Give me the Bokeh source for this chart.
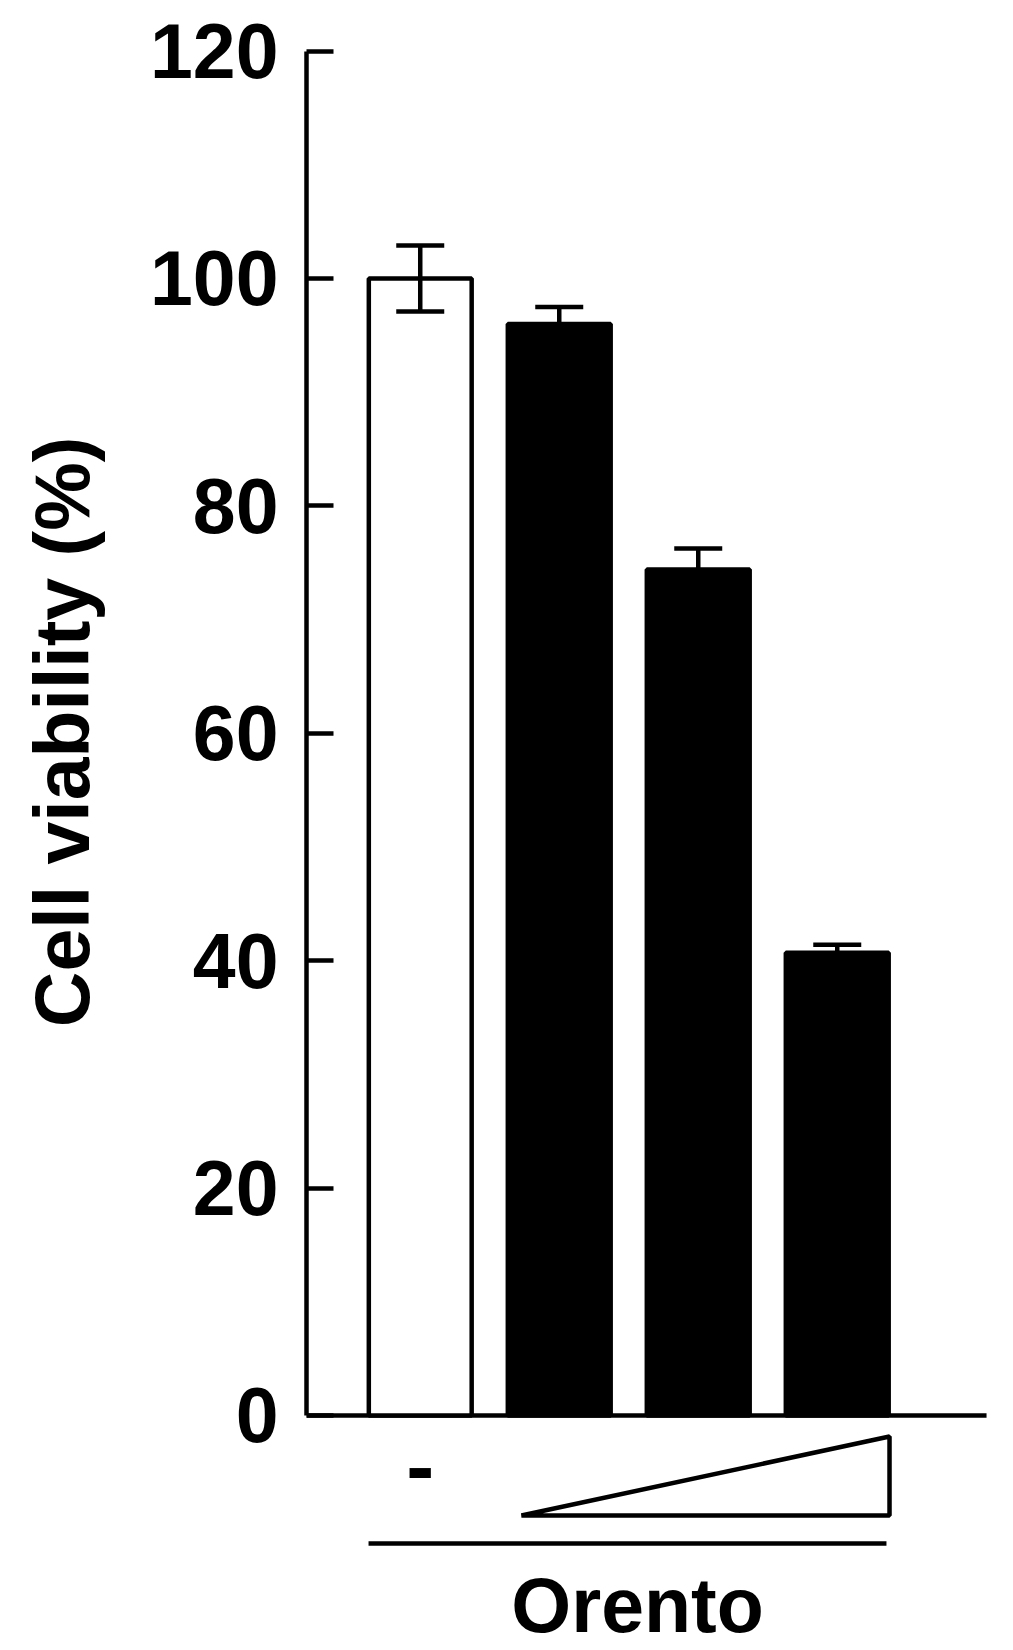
import numpy as np
from math import pi
from bokeh.plotting import figure
from bokeh.layouts import row
from bokeh.models import (ColumnDataSource, FixedTicker, Whisker, TeeHead,
                          Range1d)
from bokeh.core.properties import value
from bokeh.embed import file_html
from bokeh.resources import INLINE

# ---- data ----
conditions = ["Control", "Orento low", "Orento mid", "Orento high"]
viability = [100.0, 96.0, 74.4, 40.7]
sem = [2.9, 1.5, 1.85, 0.7]
y_ticks = [0, 20, 40, 60, 80, 100, 120]
y_title = "Cell viability (%)"
x_title = "Orento"
control_mark = "-"

FONT = "Liberation Sans"
LW = 4.5
H = 1650
TITLE_W = 130

x = np.arange(1, len(viability) + 1, dtype=float)
fills = ["white"] + ["black"] * (len(viability) - 1)
upper = [v + e for v, e in zip(viability, sem)]
lower = [v - e for v, e in zip(viability, sem)]
src = ColumnDataSource(dict(x=x, top=viability, fill=fills, upper=upper, lower=lower))

# ---------- y-axis title strip ----------
t = figure(width=TITLE_W, height=H, output_backend="svg", toolbar_location=None,
           x_range=Range1d(0, TITLE_W), y_range=Range1d(H, 0),
           x_axis_type=None, y_axis_type=None,
           min_border_left=0, min_border_right=0, min_border_top=0, min_border_bottom=0)
t.outline_line_color = None
t.grid.visible = False
t.background_fill_color = "white"
t.border_fill_color = "white"
t.text(x=[61], y=[723], text=[y_title], angle=pi / 2, text_font=value(FONT),
       text_font_style="bold", text_font_size="77px", text_align="center",
       text_baseline="middle", text_color="black")

# ---------- main chart ----------
x0, x1 = 0.1817, 5.2104
p = figure(width=1005 - TITLE_W, height=H, output_backend="svg", toolbar_location=None,
           x_range=Range1d(x0, x1), y_range=Range1d(-20.67, 123.13),
           min_border_left=306 - TITLE_W, min_border_right=0, min_border_top=15,
           min_border_bottom=0)
p.outline_line_color = None
p.grid.visible = False
p.xaxis.visible = False
p.background_fill_color = "white"
p.border_fill_color = "white"

yax = p.yaxis[0]
yax.bounds = (0, 120)
yax.ticker = FixedTicker(ticks=y_ticks)
yax.minor_tick_line_color = None
yax.major_tick_in = 27
yax.major_tick_out = 0
yax.axis_line_width = LW
yax.major_tick_line_width = LW
yax.axis_line_color = "black"
yax.major_tick_line_color = "black"
yax.major_label_text_font = FONT
yax.major_label_text_font_style = "bold"
yax.major_label_text_font_size = "77px"
yax.major_label_text_color = "black"
yax.major_label_standoff = 28

# baseline
p.line([x0, 5.074], [0, 0], line_color="black", line_width=LW)

# bars
p.vbar(x="x", top="top", bottom=0, width=0.74, source=src,
       fill_color="fill", line_color="black", line_width=LW)

# error bars
w = Whisker(base="x", upper="upper", lower="lower", source=src, level="overlay",
            line_color="black", line_width=LW,
            upper_head=TeeHead(size=48, line_width=LW, line_color="black"),
            lower_head=TeeHead(size=48, line_width=LW, line_color="black"))
p.add_layout(w)

# control mark
p.text(x=[x[0]], y=[-4.4], text=[control_mark], text_font=value(FONT),
       text_font_style="bold", text_font_size="84px", text_align="center",
       text_baseline="middle", text_color="black")

# dose triangle
p.patch([1.728, 4.376, 4.376], [-8.8, -8.8, -1.85], fill_color="white",
        line_color="black", line_width=LW, line_join="bevel")

# group line
p.line([0.628, 4.354], [-11.26, -11.26], line_color="black", line_width=LW)

p.text(x=[2.563], y=[-16.7], text=[x_title], text_font=value(FONT),
       text_font_style="bold", text_font_size="77px", text_align="center",
       text_baseline="middle", text_color="black")

layout = row(t, p, spacing=0)
open("out.html", "w").write(file_html(layout, INLINE))
